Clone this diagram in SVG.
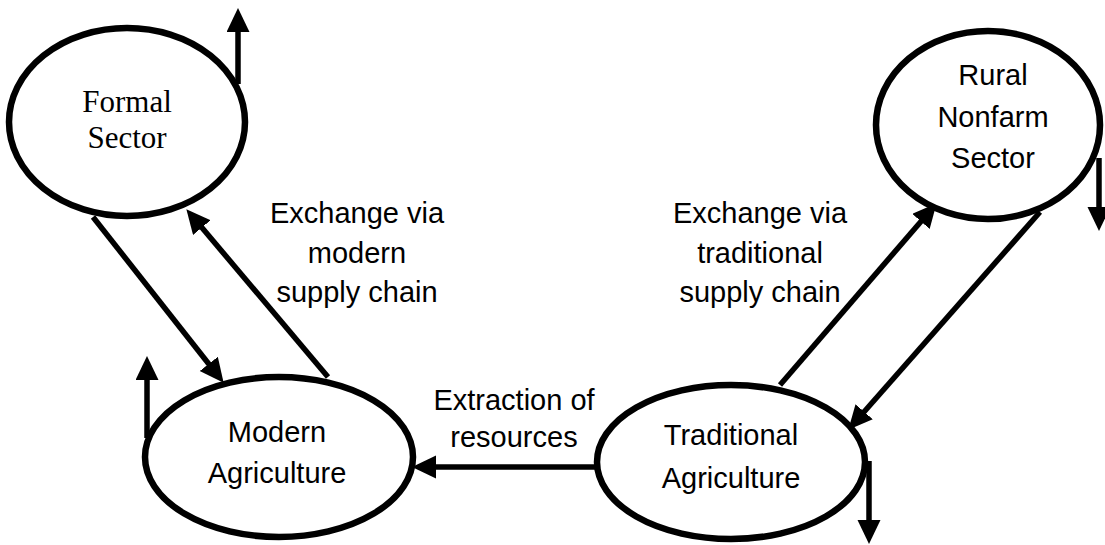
<svg xmlns="http://www.w3.org/2000/svg" width="1105" height="545" viewBox="0 0 1105 545">
<defs>
<marker id="ah" markerUnits="userSpaceOnUse" markerWidth="26" markerHeight="24" refX="1" refY="11.5" orient="auto">
<path d="M0,0 L24,11.5 L0,23 z" fill="#000"/>
</marker>
<style>
.node{fill:#fff;stroke:#000;stroke-width:6.5}
.edge{stroke:#000;stroke-width:5.5;fill:none;marker-end:url(#ah)}
.serif{font-family:"Liberation Serif","Times New Roman",serif;font-size:31px;fill:#000;text-anchor:middle}
.sans{font-family:"Liberation Sans",Arial,sans-serif;font-size:29px;fill:#000;text-anchor:middle}
</style>
</defs>
<rect width="1105" height="545" fill="#fff"/>
<g id="connectors">
<line class="edge" x1="93" y1="217" x2="209.4" y2="364.7"/>
<line class="edge" x1="328" y1="377" x2="201.2" y2="226.8"/>
<line class="edge" x1="597" y1="467" x2="435" y2="467"/>
<line class="edge" x1="780" y1="385" x2="921.6" y2="220.7"/>
<line class="edge" x1="1040" y1="212" x2="863.5" y2="412.5"/>
<line class="edge" x1="238" y1="84" x2="238" y2="31"/>
<line class="edge" x1="1099" y1="158" x2="1099" y2="208"/>
<line class="edge" x1="869" y1="461" x2="869" y2="521"/>
<line class="edge" x1="147" y1="438" x2="147" y2="379"/>
</g>
<g id="formal-sector">
<ellipse class="node" cx="127" cy="122" rx="118" ry="94"/>
<text class="serif" x="127" y="112">Formal</text>
<text class="serif" x="127" y="148">Sector</text>
</g>
<g id="rural-nonfarm-sector">
<ellipse class="node" cx="988" cy="125" rx="112" ry="94"/>
<text class="sans" x="993" y="85">Rural</text>
<text class="sans" x="993" y="127">Nonfarm</text>
<text class="sans" x="993" y="168">Sector</text>
</g>
<g id="modern-agriculture">
<ellipse class="node" cx="279" cy="457" rx="134" ry="80"/>
<text class="sans" x="277" y="442">Modern</text>
<text class="sans" x="277" y="483">Agriculture</text>
</g>
<g id="traditional-agriculture">
<ellipse class="node" cx="731" cy="462" rx="134" ry="77"/>
<text class="sans" x="731" y="445">Traditional</text>
<text class="sans" x="731" y="488">Agriculture</text>
</g>
<g id="labels">
<text class="sans" x="357" y="223">Exchange via</text>
<text class="sans" x="357" y="263">modern</text>
<text class="sans" x="357" y="302">supply chain</text>
<text class="sans" x="760" y="223">Exchange via</text>
<text class="sans" x="760" y="263">traditional</text>
<text class="sans" x="760" y="302">supply chain</text>
<text class="sans" x="514" y="410">Extraction of</text>
<text class="sans" x="514" y="447">resources</text>
</g>
</svg>
